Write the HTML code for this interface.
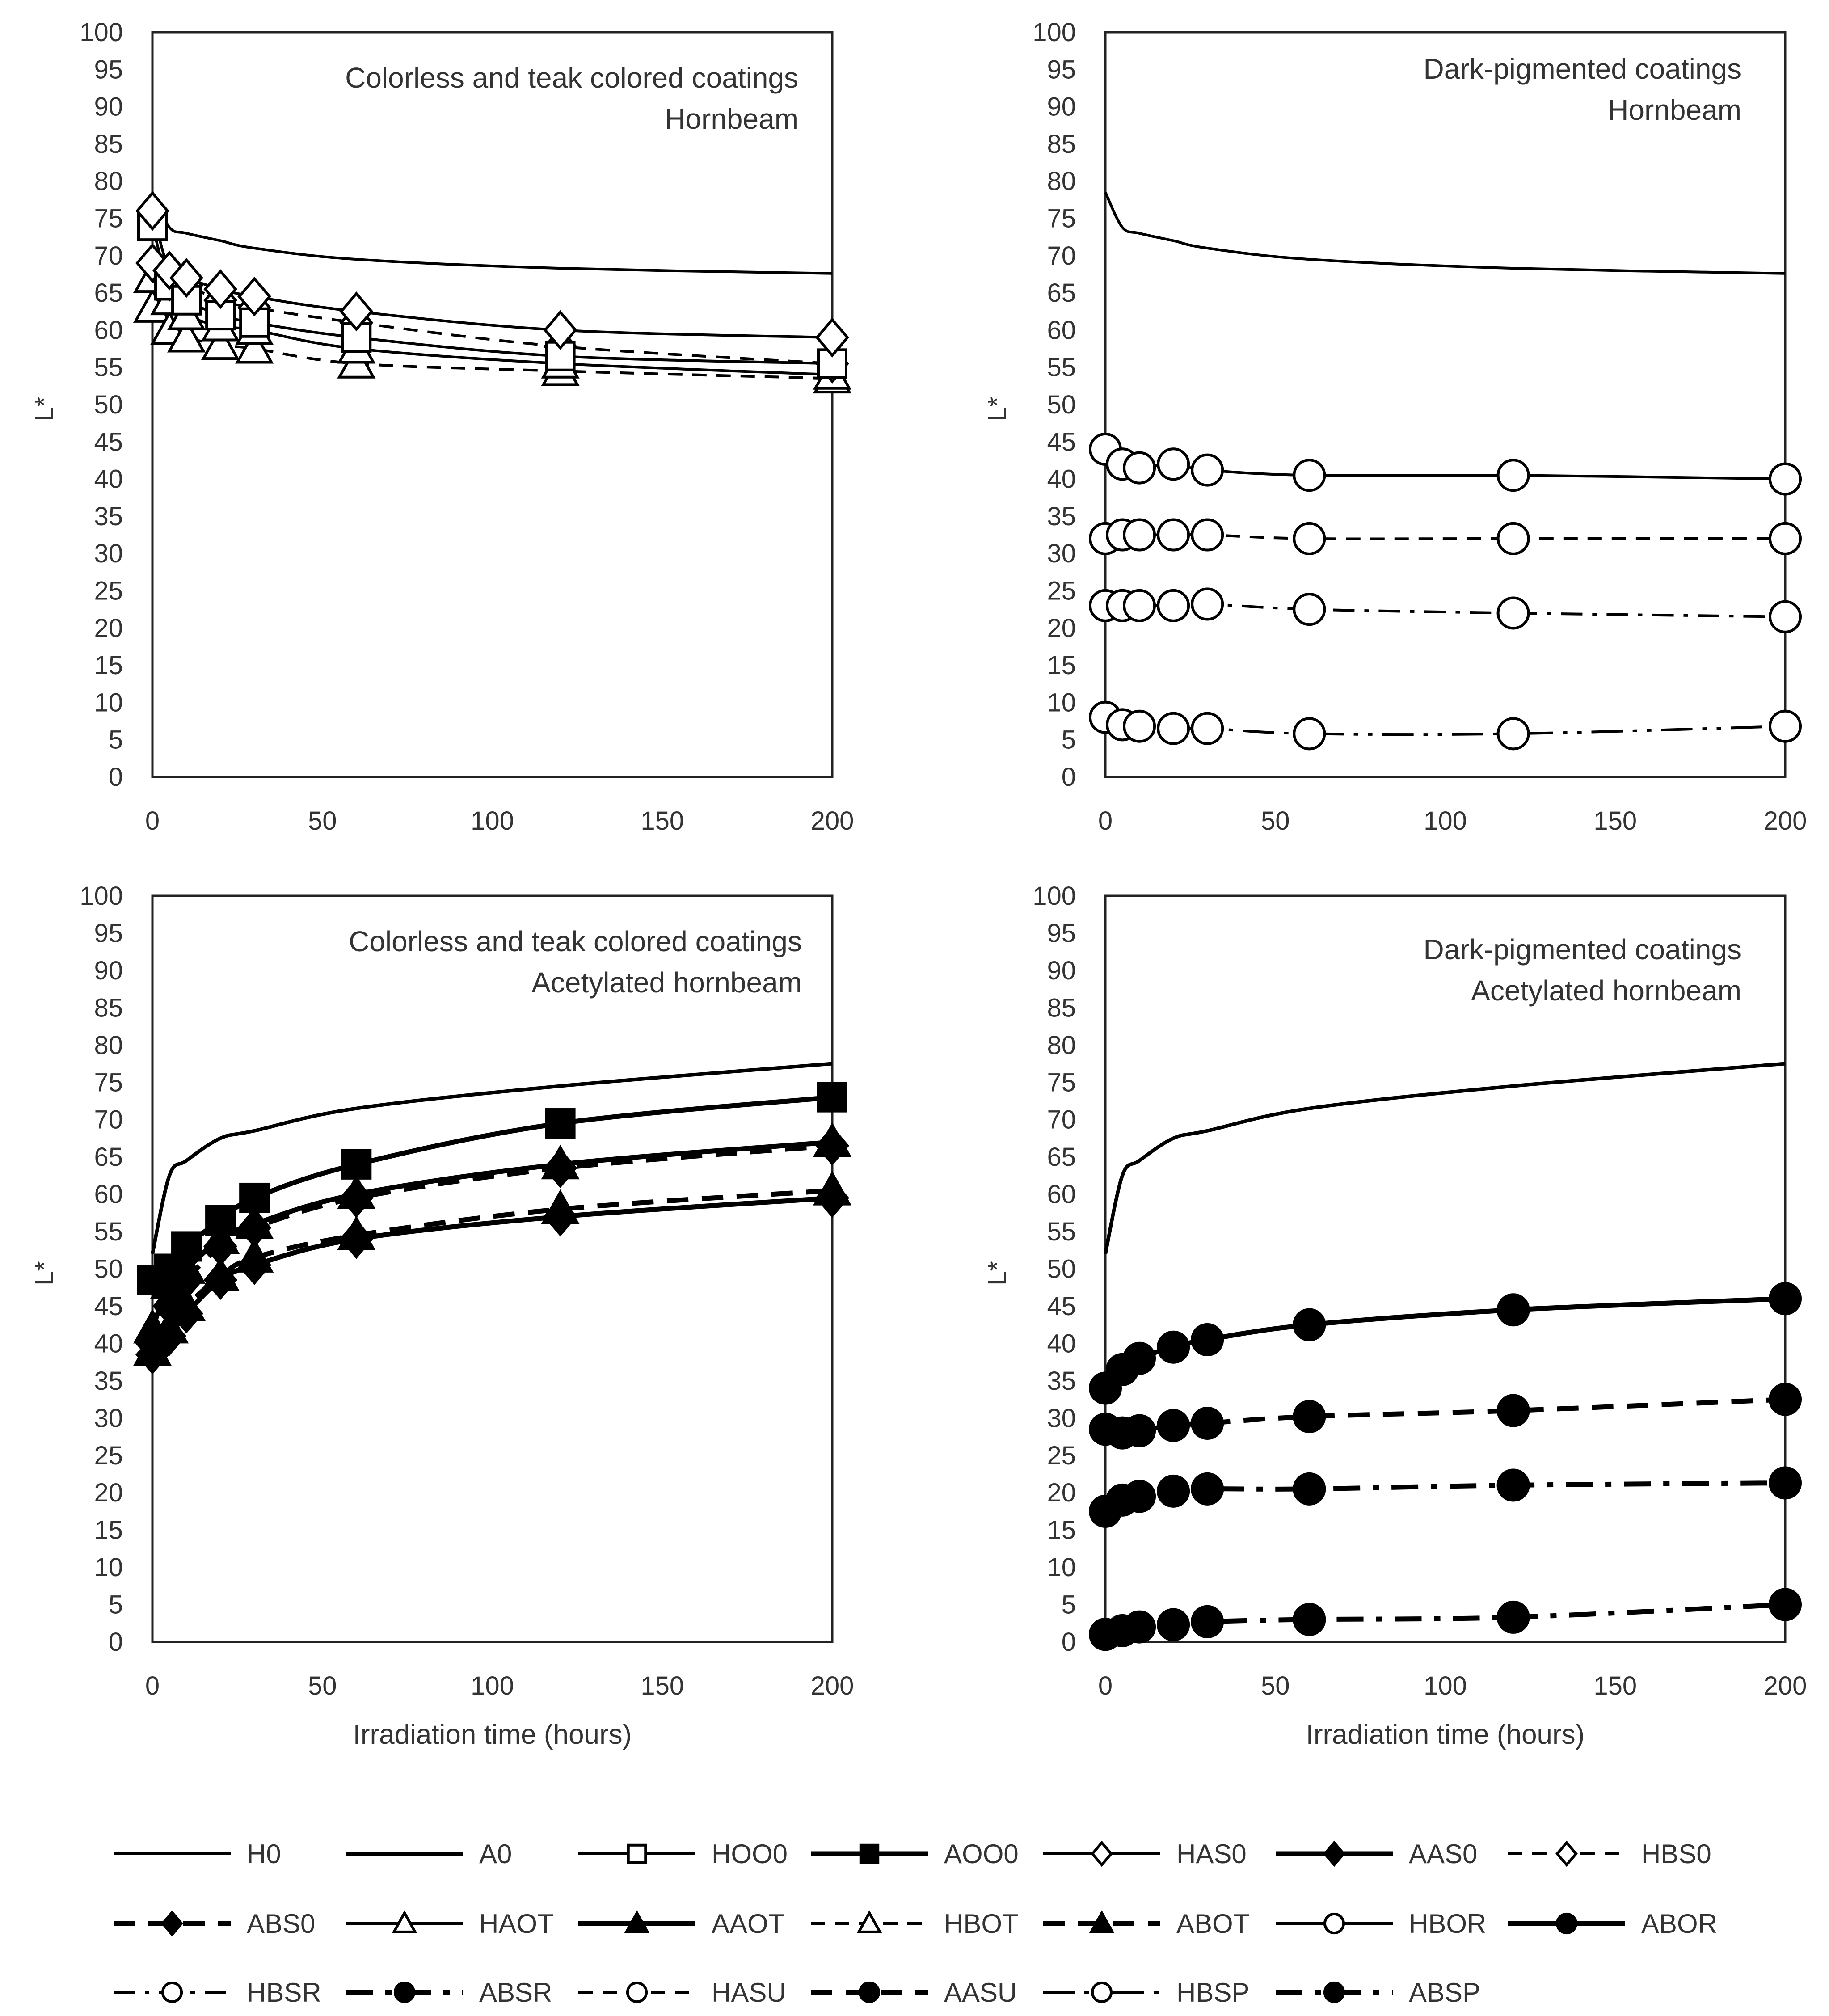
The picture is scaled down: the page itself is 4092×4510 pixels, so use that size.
<!DOCTYPE html>
<html><head><meta charset="utf-8"><style>
html,body{margin:0;padding:0;background:#fff;}
svg{display:block;font-family:"Liberation Sans",sans-serif;}
</style></head><body>
<svg id="chart" width="4092" height="4510" viewBox="0 0 4092 4510" xmlns="http://www.w3.org/2000/svg"></svg>
<script>
const times = [0, 5, 10, 20, 30, 60, 120, 200];
const yTicks = [0,5,10,15,20,25,30,35,40,45,50,55,60,65,70,75,80,85,90,95,100];
const xTicks = [0, 50, 100, 150, 200];
// series values
const H0 = [78.5, 73.8, 73, 72, 71, 69.5, 68.3, 67.6];
const A0 = [52, 62.5, 64.5, 67.5, 68.5, 71.5, 74.5, 77.5];
const HOO0 = [74, 66, 64, 62, 61, 59, 56.5, 55.5];
const HAS0 = [76, 68, 67, 65.5, 64.5, 62.5, 60, 59];
const HBS0 = [69, 66.5, 66, 64, 63, 61, 57.8, 55.5];
const HAOT = [67, 64, 62, 60.5, 60, 57.5, 55.5, 54];
const HBOT = [63, 60, 59, 58, 57.5, 55.5, 54.5, 53.5];
const AOO0 = [48.5, 50, 53, 56.5, 59.5, 64, 69.5, 73];
const AAS0 = [38.5, 41, 44, 48.5, 50.5, 54, 57, 59.5];
const ABS0 = [40, 45, 48.5, 53, 55.5, 59.5, 63.5, 66.5];
const AAOT = [42, 48, 50, 54, 56, 60, 64, 67];
const ABOT = [39, 42, 45, 49, 51.5, 54.5, 58, 60.5];
const HBOR = [44, 42, 41.5, 42, 41.2, 40.5, 40.5, 40];
const HASU = [32, 32.5, 32.5, 32.5, 32.5, 32, 32, 32];
const HBSR = [23, 23, 23, 23, 23.2, 22.5, 22, 21.5];
const HBSP = [8, 7, 6.8, 6.5, 6.5, 5.8, 5.8, 6.8];
const ABOR = [34, 36.5, 38, 39.5, 40.5, 42.5, 44.5, 46];
const AASU = [28.5, 28, 28.3, 29, 29.3, 30.2, 31, 32.5];
const ABSR = [17.5, 19, 19.5, 20.2, 20.5, 20.5, 21, 21.3];
const ABSP = [1, 1.5, 2, 2.3, 2.7, 3, 3.3, 5];

const NS = "http://www.w3.org/2000/svg";
const svg = document.getElementById('chart');
function el(tag, attrs, parent){const e=document.createElementNS(NS,tag);for(const k in attrs)e.setAttribute(k,attrs[k]);(parent||svg).appendChild(e);return e;}

const DASH = {solid:null, dash:"32,22", tdash:"48,30", dd:"48,22,10,22", tdd:"60,28,14,28", ldd:"70,22,10,22,10,22"};
const STY = {
 H0:{w:6,d:'solid',m:null,f:false}, A0:{w:8,d:'solid',m:null,f:false},
 HOO0:{w:6,d:'solid',m:'sq',f:false}, AOO0:{w:11,d:'solid',m:'sq',f:true},
 HAS0:{w:6,d:'solid',m:'di',f:false}, AAS0:{w:11,d:'solid',m:'di',f:true},
 HBS0:{w:6,d:'dash',m:'di',f:false}, ABS0:{w:11,d:'tdash',m:'di',f:true},
 HAOT:{w:6,d:'solid',m:'tr',f:false}, AAOT:{w:11,d:'solid',m:'tr',f:true},
 HBOT:{w:6,d:'dash',m:'tr',f:false}, ABOT:{w:11,d:'tdash',m:'tr',f:true},
 HBOR:{w:6,d:'solid',m:'ci',f:false}, ABOR:{w:11,d:'solid',m:'ci',f:true},
 HBSR:{w:6,d:'dd',m:'ci',f:false}, ABSR:{w:11,d:'tdd',m:'ci',f:true},
 HASU:{w:6,d:'dash',m:'ci',f:false}, AASU:{w:11,d:'tdash',m:'ci',f:true},
 HBSP:{w:6,d:'ldd',m:'ci',f:false}, ABSP:{w:11,d:'tdd',m:'ci',f:true}
};

function marker(type, filled, x, y, g, size, name){
  const s = size||1;
  const a = {fill: filled?'#000':'#fff', stroke:'#000', 'stroke-width':6};
  let e;
  if(type==='sq'){ const h=31*s; e=el('rect',Object.assign({x:x-h,y:y-h,width:2*h,height:2*h},a),g); }
  else if(type==='di'){ const h=40*s; e=el('polygon',Object.assign({points:`${x},${y-h} ${x+h*0.85},${y} ${x},${y+h} ${x-h*0.85},${y}`},a),g); }
  else if(type==='tr'){ const h=38*s; e=el('polygon',Object.assign({points:`${x},${y-h} ${x+h},${y+h*0.8} ${x-h},${y+h*0.8}`},a),g); }
  else { e=el('circle',Object.assign({cx:x,cy:y,r:34*s},a),g); }
  
  
}

function smoothPath(pts){
  let d=`M${pts[0][0]},${pts[0][1]}`;
  for(let i=0;i<pts.length-1;i++){
    const p0=pts[i-1]||pts[i], p1=pts[i], p2=pts[i+1], p3=pts[i+2]||p2;
    const t=1/6;
    const c1=[p1[0]+(p2[0]-p0[0])*t, p1[1]+(p2[1]-p0[1])*t];
    const c2=[p2[0]-(p3[0]-p1[0])*t, p2[1]-(p3[1]-p1[1])*t];
    d+=` C${c1[0]},${c1[1]} ${c2[0]},${c2[1]} ${p2[0]},${p2[1]}`;
  }
  return d;
}

function panel(opt){
  const g = el('g',{});
  
  
  const {x0,x1,yT,yB} = opt;
  const sx = t => x0 + (t/200)*(x1-x0);
  const sy = v => yB - (v/100)*(yB-yT);
  const frame = el('rect',{x:x0,y:yT,width:x1-x0,height:yB-yT,fill:'none',stroke:'#222','stroke-width':5},g);
  
  
  yTicks.forEach(v=>{
    const t = el('text',{x:x0-66,y:sy(v)+20,'text-anchor':'end','font-size':58,fill:'#333'},g);
    t.textContent=v;
    
    
  });
  xTicks.forEach(v=>{
    const t = el('text',{x:sx(v),y:yB+118,'text-anchor':'middle','font-size':58,fill:'#333'},g);
    t.textContent=v;
    
    
  });
  const yl = el('text',{x:0,y:0,transform:`translate(${x0-222},${(yT+yB)/2+10}) rotate(-90)`,'text-anchor':'middle','font-size':58,fill:'#333'},g);
  yl.textContent='L*';
  
  
  opt.title.forEach((s,i)=>{
    const t = el('text',{x:x1-opt.tr,y:yT+124+i*92+opt.ty,'text-anchor':'end','font-size':64,fill:'#333'},g);
    t.textContent=s;
    
    
  });
  if(opt.xtitle){
    const t = el('text',{x:(x0+x1)/2,y:yB+228,'text-anchor':'middle','font-size':62,fill:'#333'},g);
    t.textContent='Irradiation time (hours)';
    
    
  }
  opt.series.forEach(([name,vals])=>{
    const st=STY[name];
    const pts = times.map((t,i)=>[sx(t),sy(vals[i])]);
    const p = el('path',{d:smoothPath(pts),fill:'none',stroke:'#000','stroke-width':st.w},g);
    if(DASH[st.d]) p.setAttribute('stroke-dasharray',DASH[st.d]);
    
    
  });
  opt.series.forEach(([name,vals])=>{
    const st=STY[name];
    if(!st.m) return;
    times.forEach((t,i)=>marker(st.m, st.f, sx(t), sy(vals[i]), g, 1, name.toLowerCase()));
  });
}

panel({name:'panel-hornbeam-colorless',x0:341,x1:1862,yT:72,yB:1738,tr:76,ty:0,title:['Colorless and teak colored coatings','Hornbeam'],xtitle:false,
  series:[['H0',H0],['HBOT',HBOT],['HAOT',HAOT],['HBS0',HBS0],['HOO0',HOO0],['HAS0',HAS0]]});
panel({name:'panel-hornbeam-dark',x0:2473,x1:3994,yT:72,yB:1738,tr:98,ty:-20,title:['Dark-pigmented coatings','Hornbeam'],xtitle:false,
  series:[['H0',H0],['HBOR',HBOR],['HASU',HASU],['HBSR',HBSR],['HBSP',HBSP]]});
panel({name:'panel-acetylated-colorless',x0:341,x1:1862,yT:2004,yB:3673,tr:68,ty:0,title:['Colorless and teak colored coatings','Acetylated hornbeam'],xtitle:true,
  series:[['A0',A0],['AAS0',AAS0],['ABOT',ABOT],['ABS0',ABS0],['AAOT',AAOT],['AOO0',AOO0]]});
panel({name:'panel-acetylated-dark',x0:2473,x1:3994,yT:2004,yB:3673,tr:98,ty:18,title:['Dark-pigmented coatings','Acetylated hornbeam'],xtitle:true,
  series:[['A0',A0],['ABOR',ABOR],['AASU',AASU],['ABSR',ABSR],['ABSP',ABSP]]});

// legend
const legendRows = [
 ['H0','A0','HOO0','AOO0','HAS0','AAS0','HBS0'],
 ['ABS0','HAOT','AAOT','HBOT','ABOT','HBOR','ABOR'],
 ['HBSR','ABSR','HASU','AASU','HBSP','ABSP']
];
const legendY = [4147, 4303, 4457];
const lg = el('g',{});


legendRows.forEach((row,r)=>{
  row.forEach((name,c)=>{
    const st=STY[name];
    const x=254+c*520, y=legendY[r];
    const g = el('g',{},lg);
    
    
    const l = el('line',{x1:x,y1:y,x2:x+262,y2:y,stroke:'#000','stroke-width':st.w},g);
    if(DASH[st.d]) l.setAttribute('stroke-dasharray',DASH[st.d]);
    if(st.m) marker(st.m, st.f, x+131, y, g, 0.62, 'legend');
    const t = el('text',{x:x+298,y:y+21,'font-size':60,fill:'#333'},g);
    t.textContent=name;
  });
});
</script>
</body></html>
